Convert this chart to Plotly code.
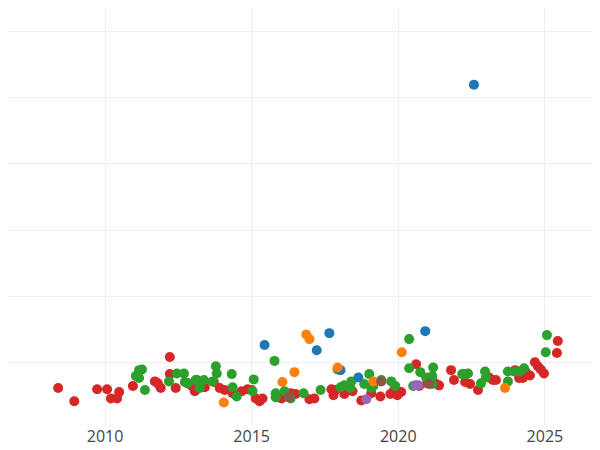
import plotly.graph_objects as go

# decimal years and values, one pair of lists per colour group
red_x = [2008.40, 2008.95, 2009.73, 2010.07, 2010.20, 2010.41, 2010.48, 2010.95, 2011.70, 2011.80,
         2011.90, 2012.21, 2012.21, 2012.41, 2012.82, 2012.96, 2013.06, 2013.13, 2013.27, 2013.40,
         2013.71, 2013.91, 2014.08, 2014.35, 2014.66, 2014.86, 2015.00, 2015.14, 2015.27, 2015.37,
         2015.85, 2016.02, 2016.22, 2016.33, 2016.50, 2016.97, 2017.14, 2017.72, 2017.79, 2017.86,
         2018.16, 2018.23, 2018.44, 2018.74, 2019.08, 2019.39, 2019.73, 2019.86, 2019.97, 2020.10,
         2020.61, 2020.71, 2020.99, 2021.26, 2021.39, 2021.80, 2021.90, 2022.28, 2022.45, 2022.72,
         2023.10, 2023.23, 2023.33, 2023.98, 2024.12, 2024.25, 2024.35, 2024.49, 2024.66, 2024.76,
         2024.86, 2024.97, 2025.44, 2025.41]
red_y = [0.61, 0.41, 0.59, 0.59, 0.45, 0.45, 0.55, 0.64, 0.71, 0.68,
         0.61, 1.08, 0.82, 0.61, 0.68, 0.64, 0.56, 0.73, 0.67, 0.62,
         0.70, 0.61, 0.58, 0.53, 0.56, 0.59, 0.58, 0.45, 0.41, 0.45,
         0.47, 0.45, 0.48, 0.53, 0.52, 0.44, 0.45, 0.59, 0.50, 0.58,
         0.52, 0.58, 0.56, 0.42, 0.53, 0.48, 0.52, 0.58, 0.50, 0.55,
         0.97, 0.64, 0.68, 0.68, 0.65, 0.88, 0.73, 0.70, 0.67, 0.58,
         0.77, 0.73, 0.73, 0.88, 0.76, 0.76, 0.85, 0.80, 1.00, 0.94,
         0.89, 0.83, 1.32, 1.14]

green_x = [2011.05, 2011.16, 2011.16, 2011.26, 2011.36, 2012.18, 2012.45, 2012.69, 2012.72, 2012.82,
           2013.09, 2013.23, 2013.37, 2013.67, 2013.81, 2013.78, 2014.32, 2014.35, 2014.49, 2015.07,
           2015.03, 2015.78, 2015.82, 2015.82, 2016.12, 2016.33, 2016.77, 2017.35, 2017.93, 2018.03,
           2018.16, 2018.37, 2018.40, 2018.84, 2019.01, 2019.08, 2019.15, 2019.42, 2019.76, 2019.90,
           2020.37, 2020.37, 2020.51, 2020.75, 2020.95, 2021.16, 2021.19, 2021.16, 2022.18, 2022.31,
           2022.38, 2022.82, 2022.96, 2022.99, 2023.74, 2023.74, 2023.95, 2024.15, 2024.29, 2025.07,
           2025.03]
green_y = [0.79, 0.76, 0.88, 0.89, 0.58, 0.71, 0.83, 0.83, 0.70, 0.68,
           0.73, 0.61, 0.73, 0.71, 0.83, 0.94, 0.82, 0.62, 0.48, 0.74,
           0.56, 1.02, 0.53, 0.47, 0.56, 0.45, 0.53, 0.58, 0.89, 0.62,
           0.65, 0.61, 0.71, 0.67, 0.82, 0.61, 0.64, 0.73, 0.71, 0.64,
           1.35, 0.91, 0.64, 0.85, 0.77, 0.79, 0.92, 0.67, 0.82, 0.82,
           0.83, 0.68, 0.86, 0.77, 0.71, 0.86, 0.86, 0.86, 0.91, 1.41,
           1.15]

blue_x = [2015.44, 2017.22, 2017.65, 2018.64, 2020.92, 2022.58, 2018.03]
blue_y = [1.26, 1.18, 1.44, 0.77, 1.47, 5.20, 0.88]

orange_x = [2014.05, 2016.05, 2016.46, 2016.86, 2016.97, 2017.93, 2019.15, 2020.12, 2023.64]
orange_y = [0.39, 0.70, 0.85, 1.42, 1.35, 0.92, 0.71, 1.15, 0.61]

purple_x = [2018.91, 2020.58, 2020.68]
purple_y = [0.44, 0.65, 0.65]

brown_x = [2019.42, 2021.05, 2016.26]
brown_y = [0.71, 0.67, 0.47]

groups = [
    (red_x, red_y, "#d62728"),
    (green_x, green_y, "#2ca02c"),
    (blue_x, blue_y, "#1f77b4"),
    (orange_x, orange_y, "#ff7f0e"),
    (purple_x, purple_y, "#9467bd"),
    (brown_x, brown_y, "#8c564b"),
]

fig = go.Figure()
for xs, ys, col in groups:
    fig.add_trace(go.Scatter(x=xs, y=ys, mode="markers",
                             marker=dict(color=col, size=10), showlegend=False))

# page body adds an 8px offset, so the figure is a little smaller than the window
fig.update_layout(width=592, height=442,
                  margin=dict(l=0, r=0, t=0, b=25),
                  paper_bgcolor="white", plot_bgcolor="white",
                  font=dict(family="Open Sans", size=16, color="#444"))
fig.update_xaxes(range=[2006.69, 2026.88], tickvals=[2010, 2015, 2020, 2025],
                 showgrid=True, gridcolor="#eeeeee", zeroline=False)
fig.update_yaxes(range=[0.05, 6.36], dtick=1, showticklabels=False,
                 showgrid=True, gridcolor="#eeeeee", zeroline=False)

fig.write_html("out.html")
